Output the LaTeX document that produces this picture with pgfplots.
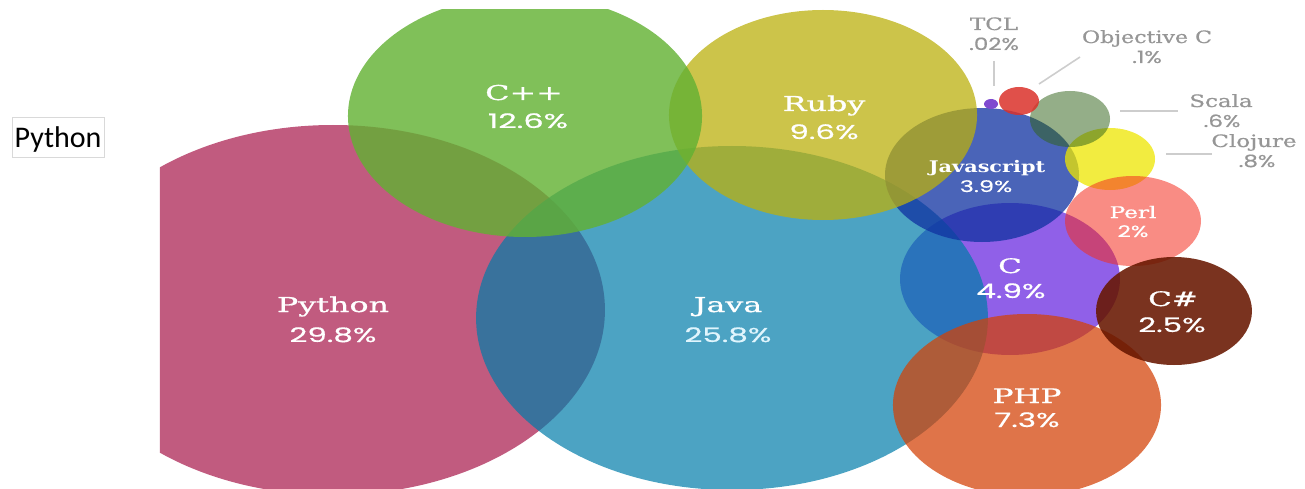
\documentclass[border=0pt]{standalone}
\usepackage{graphicx}
\usepackage{pgfplots}
\pgfplotsset{compat=1.18}
\usepackage{fontspec}
\newfontfamily\slab{DejaVu Serif}
\newfontface\slabm[FakeBold=0.7]{DejaVu Serif}
\newfontface\geo[FakeBold=0.5]{Poppins}
\newfontfamily\calfont{Carlito}

\definecolor{cPython}{RGB}{193,91,127}
\definecolor{cC}{RGB}{144,96,232}
\definecolor{cJava}{RGB}{0,124,169}
\definecolor{cJS}{RGB}{17,51,162}
\definecolor{cRuby}{RGB}{187,176,14}
\definecolor{cCpp}{RGB}{98,177,51}
\definecolor{cPHP}{RGB}{211,65,6}
\definecolor{cClojure}{RGB}{238,230,0}
\definecolor{cPerl}{RGB}{244,46,31}
\definecolor{cCsharp}{RGB}{104,23,0}
\definecolor{cScala}{RGB}{49,99,26}
\definecolor{cObjC}{RGB}{219,49,42}
\definecolor{cTCL}{RGB}{127,74,208}
\definecolor{lead}{RGB}{205,205,205}
\definecolor{glab}{RGB}{150,150,150}

% bubble: colour, y-radius (pt = px), x/y stretch, opacity
\pgfplotsset{bubble/.style n args={4}{only marks, mark=*, mark size=#2pt, color=#1,
  mark options={xscale=#3, draw opacity=0, fill=#1, fill opacity=#4}}}

\newcommand{\nm}[3]{\scalebox{#1}[1]{\slabm\fontsize{#2}{#2}\selectfont #3}}
\newcommand{\pc}[3]{\scalebox{#1}[1]{\geo\fontsize{#2}{#2}\selectfont #3}}

\begin{document}
\begin{tikzpicture}
\begin{axis}[x=1pt, y=1pt, y dir=reverse,
  xmin=160, xmax=1305, ymin=10, ymax=489,
  hide axis, clip mode=individual, clip marker paths=true]
% bubbles: (centre x, centre y), radius in y, stretch rx/ry
\addplot[bubble={cC}{76}{1.447}{1}]        coordinates {(1010,279)};
\addplot[bubble={cPython}{185}{1.470}{1}]  coordinates {(333,310)};
\addplot[bubble={cJava}{172}{1.488}{0.70}] coordinates {(732,318)};
\addplot[bubble={cJS}{67}{1.448}{0.76}]    coordinates {(982,175)};
\addplot[bubble={cRuby}{105}{1.467}{0.75}] coordinates {(823,115)};
\addplot[bubble={cCpp}{121}{1.463}{0.81}]  coordinates {(525,116)};
\addplot[bubble={cPHP}{91}{1.473}{0.73}]   coordinates {(1027,405)};
\addplot[bubble={cClojure}{31}{1.452}{0.75}] coordinates {(1110,159)};
\addplot[bubble={cPerl}{45}{1.511}{0.55}]  coordinates {(1133,221)};
\addplot[bubble={cCsharp}{54}{1.444}{0.88}] coordinates {(1174,311)};
\addplot[bubble={cScala}{28}{1.429}{0.52}] coordinates {(1070,119)};
\addplot[bubble={cObjC}{14}{1.429}{0.85}]  coordinates {(1019,101)};
\addplot[bubble={cTCL}{5}{1.4}{1}]         coordinates {(991,104)};

% leader lines
\addplot[lead, line width=1.6pt, no marks] coordinates {(994,61) (994,86)};
\addplot[lead, line width=1.6pt, no marks] coordinates {(1039,84) (1080,57)};
\addplot[lead, line width=1.6pt, no marks] coordinates {(1120,111) (1178,111)};
\addplot[lead, line width=1.6pt, no marks] coordinates {(1166,154) (1212,154)};

% bubble labels
\begin{scope}[every node/.style={anchor=base, inner sep=0pt, text=white}]
\node at (axis cs:333,312) {\nm{1.55}{20.5}{Python}};
\node at (axis cs:333,342) {\pc{1.55}{20}{29.8\%}};
\node at (axis cs:728,312) {\nm{1.55}{20.5}{Java}};
\node[text=white!88!cyan] at (axis cs:728,342) {\pc{1.55}{20}{25.8\%}};
\node at (axis cs:524,100) {\nm{1.55}{20.5}{C++}};
\node at (axis cs:528,128) {\pc{1.6}{20}{12.6\%}};
\node at (axis cs:824,111) {\nm{1.55}{20.5}{Ruby}};
\node at (axis cs:824,139) {\pc{1.55}{20}{9.6\%}};
\node at (axis cs:987,172) {\scalebox{1.3}[1]{\slab\bfseries\fontsize{16}{16}\selectfont Javascript}};
\node at (axis cs:986,192) {\pc{1.5}{16}{3.9\%}};
\node at (axis cs:1010,273) {\nm{1.55}{20}{C}};
\node at (axis cs:1011,298) {\pc{1.55}{20}{4.9\%}};
\node at (axis cs:1133,218) {\nm{1.45}{16}{Perl}};
\node at (axis cs:1133,237) {\pc{1.45}{16}{2\%}};
\node at (axis cs:1173,306) {\nm{1.55}{20}{C\#}};
\node at (axis cs:1172,332) {\pc{1.55}{20}{2.5\%}};
\node at (axis cs:1027,403) {\nm{1.55}{20}{PHP}};
\node at (axis cs:1027,427) {\pc{1.55}{20}{7.3\%}};
\end{scope}
% outside labels
\begin{scope}[every node/.style={anchor=base, inner sep=0pt, text=glab}]
\node at (axis cs:994,30) {\nm{1.35}{17}{TCL}};
\node at (axis cs:994,50) {\pc{1.35}{17}{.02\%}};
\node at (axis cs:1147,43) {\nm{1.3}{17}{Objective C}};
\node at (axis cs:1147,63) {\pc{1.35}{17}{.1\%}};
\node at (axis cs:1221,107) {\nm{1.35}{17}{Scala}};
\node at (axis cs:1222,127) {\pc{1.35}{17}{.6\%}};
\node at (axis cs:1254,147) {\nm{1.35}{17}{Clojure}};
\node at (axis cs:1257,167) {\pc{1.35}{17}{.8\%}};
\end{scope}
% side caption
\node[draw=black!15, line width=0.8pt, minimum width=92pt, minimum height=40pt, inner sep=0pt] at (axis cs:58,137) {};
\node[anchor=base, inner sep=0pt] at (axis cs:58,148) {\calfont\fontsize{30}{30}\selectfont Python};
\coordinate (bbA) at (axis cs:0,0);
\coordinate (bbB) at (axis cs:1305,489);
\end{axis}
\pgfresetboundingbox
\path[use as bounding box] (bbA) rectangle (bbB);
\end{tikzpicture}
\end{document}
